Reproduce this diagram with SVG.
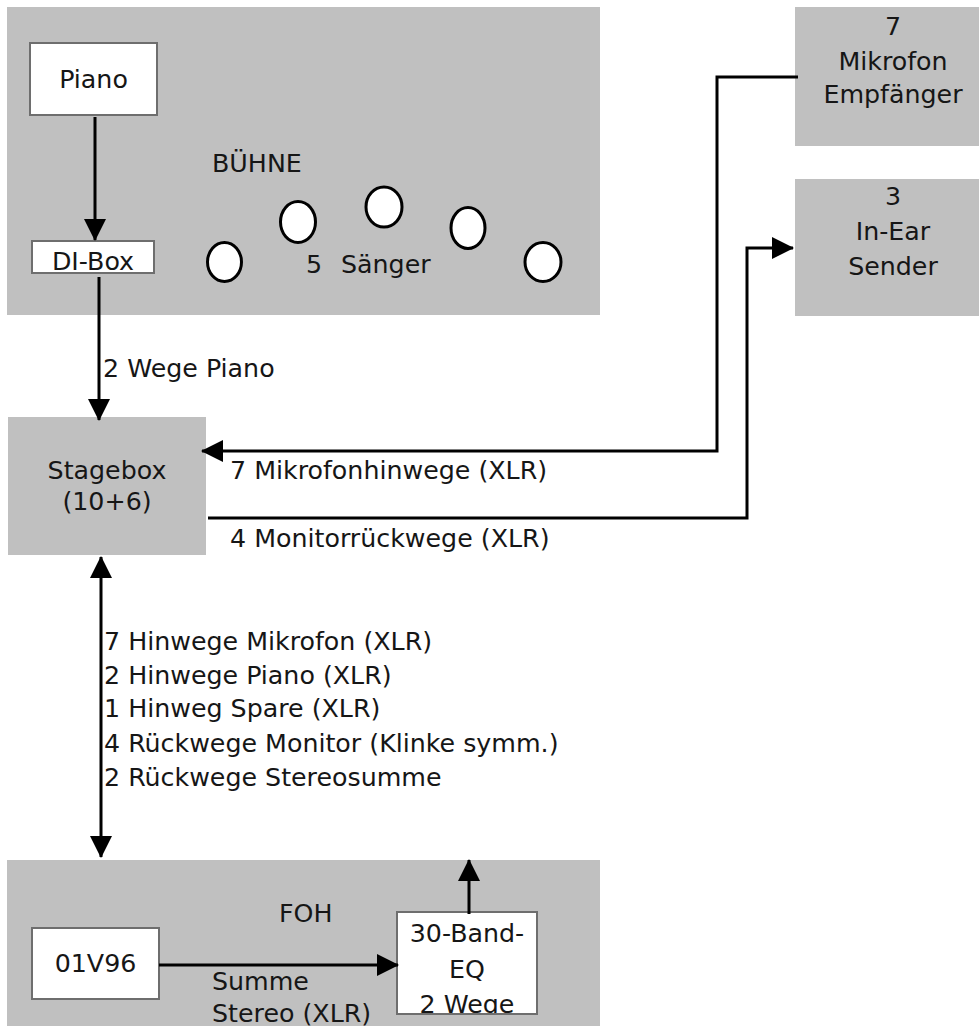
<svg xmlns="http://www.w3.org/2000/svg" width="979" height="1026" viewBox="0 0 979 1026">
<style>
text{font-family:"DejaVu Sans","Liberation Sans",sans-serif;font-size:25.3px;fill:#161616}
.c{text-anchor:middle}
.area{fill:#c0c0c0}
.box{fill:#fff;stroke:#6e6e6e;stroke-width:2}
.sing{fill:#fff;stroke:#000;stroke-width:3}
.con{fill:none;stroke:#000;stroke-width:3}
</style>
<defs>
<marker id="ah" markerUnits="userSpaceOnUse" markerWidth="22" markerHeight="22" refX="21" refY="11" orient="auto-start-reverse" viewBox="0 0 22 22">
<path d="M0,0 L22,11 L0,22 z" fill="#000"/>
</marker>
<clipPath id="eqclip"><rect x="397" y="912" width="140" height="102"/></clipPath>
</defs>
<rect width="979" height="1026" fill="#fff"/>
<g id="buehne">
<rect class="area" x="7" y="7" width="593" height="308"/>
<text x="212" y="172">BÜHNE</text>
</g>
<g id="piano">
<rect class="box" x="30" y="43" width="127" height="72"/>
<text class="c" x="93.5" y="88">Piano</text>
</g>
<g id="dibox">
<rect class="box" x="32" y="241" width="122" height="32"/>
<text class="c" x="93" y="270">DI-Box</text>
</g>
<g id="saenger">
<ellipse class="sing" cx="224.5" cy="262" rx="17" ry="19.5"/>
<ellipse class="sing" cx="298" cy="222" rx="17.5" ry="20.5"/>
<ellipse class="sing" cx="384" cy="207" rx="18" ry="20"/>
<ellipse class="sing" cx="468" cy="228" rx="17" ry="20.5"/>
<ellipse class="sing" cx="543" cy="262" rx="18" ry="19.5"/>
<text x="306" y="273">5<tspan x="341">Sänger</tspan></text>
</g>
<g id="mikrofon-empfaenger">
<rect class="area" x="795" y="7" width="184" height="139"/>
<text class="c" x="893" y="35">7</text>
<text class="c" x="893" y="70">Mikrofon</text>
<text class="c" x="893" y="103">Empfänger</text>
</g>
<g id="inear-sender">
<rect class="area" x="795" y="179" width="184" height="137"/>
<text class="c" x="893" y="205">3</text>
<text class="c" x="893" y="240">In-Ear</text>
<text class="c" x="893" y="275">Sender</text>
</g>
<g id="stagebox">
<rect class="area" x="8" y="417" width="198" height="138"/>
<text class="c" x="107" y="479">Stagebox</text>
<text class="c" x="107" y="510">(10+6)</text>
</g>
<g id="foh">
<rect class="area" x="7" y="860" width="593" height="166"/>
<text x="279" y="922">FOH</text>
</g>
<g id="mixer">
<rect class="box" x="32" y="928" width="127" height="71"/>
<text class="c" x="95.5" y="972">01V96</text>
</g>
<g id="eq">
<rect class="box" x="397" y="912" width="140" height="102"/>
<g clip-path="url(#eqclip)">
<text class="c" x="467" y="942">30-Band-</text>
<text class="c" x="467" y="978">EQ</text>
<text class="c" x="467" y="1013">2 Wege</text>
</g>
<rect x="397" y="912" width="140" height="102" fill="none" stroke="#6e6e6e" stroke-width="2"/>
</g>
<g id="connectors">
<path class="con" d="M95,117 V240" marker-end="url(#ah)"/>
<path class="con" d="M99,277 V420" marker-end="url(#ah)"/>
<path class="con" d="M798,77 H717 V451 H202" marker-end="url(#ah)"/>
<path class="con" d="M208,518 H747 V248 H793" marker-end="url(#ah)"/>
<path class="con" d="M101,557 V857" marker-start="url(#ah)" marker-end="url(#ah)"/>
<path class="con" d="M159,965 H398" marker-end="url(#ah)"/>
<path class="con" d="M469,914 V860" marker-end="url(#ah)"/>
</g>
<g id="labels">
<text x="103" y="377">2 Wege Piano</text>
<text x="230" y="479">7 Mikrofonhinwege (XLR)</text>
<text x="230" y="547">4 Monitorrückwege (XLR)</text>
<text x="104" y="650">7 Hinwege Mikrofon (XLR)</text>
<text x="104" y="684">2 Hinwege Piano (XLR)</text>
<text x="104" y="717">1 Hinweg Spare (XLR)</text>
<text x="104" y="752">4 Rückwege Monitor (Klinke symm.)</text>
<text x="104" y="786">2 Rückwege Stereosumme</text>
<text x="212" y="990">Summe</text>
<text x="212" y="1022">Stereo (XLR)</text>
</g>
</svg>
